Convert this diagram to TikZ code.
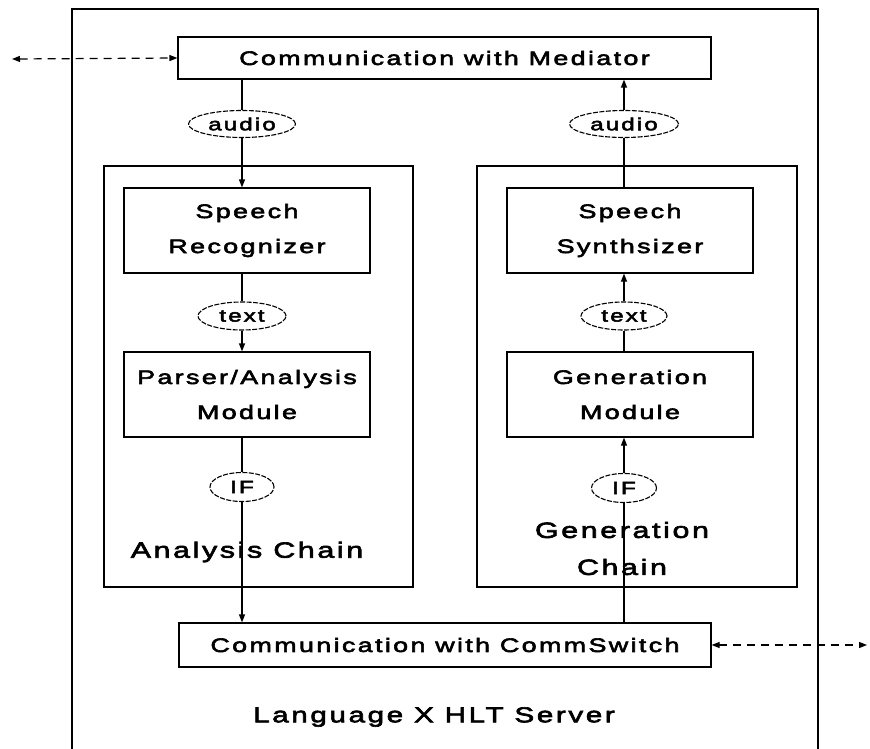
\documentclass[tikz,border=0pt]{standalone}
\usepackage{fontspec}
\setmainfont{Liberation Sans}
% wide, tracked sans for all labels
\newfontfamily\dfont[FakeStretch=1.38,LetterSpace=12,FakeBold=3]{Liberation Sans}
\usetikzlibrary{arrows.meta,shapes.geometric}
\begin{document}
\begin{tikzpicture}[x=1pt,y=-1pt,
  every node/.style={font=\dfont\fontsize{19.5}{35}\selectfont, text=black},
  box/.style={draw, line width=1.2pt, inner sep=0pt, align=center},
  tag/.style={draw, ellipse, dash pattern=on 5pt off 1.5pt, line width=1.1pt,
    inner sep=0pt, font=\dfont\fontsize{17.5}{18}\selectfont},
  chainlbl/.style={font=\dfont\fontsize{22}{37}\selectfont, align=center},
  link/.style={line width=1.2pt},
  flow/.style={link, -{Triangle[length=8pt,width=6pt]}},
  ext/.style={line width=1.2pt, dash pattern=on 8pt off 6pt,
    {Triangle[length=8pt,width=6pt]}-{Triangle[length=8pt,width=6pt]}}]
\useasboundingbox (0,0) rectangle (870,749);

% server frame (runs off the bottom)
\draw[link] (72,749) -- (72,9) -- (818,9) -- (818,749);

% communication boxes
\node[box, minimum width=533pt, minimum height=42pt] (med) at (444.5,58) {Communication with Mediator};
\node[box, minimum width=532pt, minimum height=44pt] (comm) at (445,645) {Communication with CommSwitch};

% chain containers
\node[box, minimum width=309pt, minimum height=421pt] (chainA) at (258.5,376.5) {};
\node[box, minimum width=320pt, minimum height=421pt] (chainG) at (637,376.5) {};

% modules
\node[box, minimum width=246pt, minimum height=85pt] (rec) at (247,230.5) {Speech\\Recognizer};
\node[box, minimum width=246pt, minimum height=85pt] (parser) at (247,394.5) {Parser/Analysis\\Module};
\node[box, minimum width=246pt, minimum height=85pt] (syn) at (630,230.5) {Speech\\Synthsizer};
\node[box, minimum width=246pt, minimum height=85pt] (gen) at (630,394.5) {Generation\\Module};

% data tags
\node[tag, minimum width=107pt, minimum height=27pt] (audL) at (242,124) {audio};
\node[tag, minimum width=88pt, minimum height=28pt] (textL) at (242,316) {text};
\node[tag, minimum width=64pt, minimum height=29pt] (IFL) at (242,487) {IF};
\node[tag, minimum width=109pt, minimum height=27pt] (audR) at (624,124) {audio};
\node[tag, minimum width=86pt, minimum height=28pt] (textR) at (624,316) {text};
\node[tag, minimum width=65pt, minimum height=29pt] (IFR) at (624,488) {IF};

% chain titles
\node[chainlbl] (lblA) at (247,552) {Analysis Chain};
\node[chainlbl] (lblG) at (622,548.5) {Generation\\Chain};
\node[font=\dfont\fontsize{21.5}{24}\selectfont] (lblS) at (434,717) {Language X HLT Server};

% analysis flow
\draw[link] (med.south -| audL) -- (audL);
\draw[flow] (audL) -- (audL |- rec.north);
\draw[link] (rec.south -| textL) -- (textL);
\draw[flow] (textL) -- (textL |- parser.north);
\draw[link] (parser.south -| IFL) -- (IFL);
\draw[flow] (IFL) -- (IFL |- comm.north);

% generation flow
\draw[link] (comm.north -| IFR) -- (IFR);
\draw[flow] (IFR) -- (IFR |- gen.south);
\draw[link] (gen.north -| textR) -- (textR);
\draw[flow] (textR) -- (textR |- syn.south);
\draw[link] (syn.north -| audR) -- (audR);
\draw[flow] (audR) -- (audR |- med.south);

% external links
\coordinate (inL) at (12,59);
\coordinate (outR) at (867,645);
\draw[ext] (inL) -- (med.west);
\draw[ext] (comm.east) -- (outR);
\end{tikzpicture}
\end{document}
